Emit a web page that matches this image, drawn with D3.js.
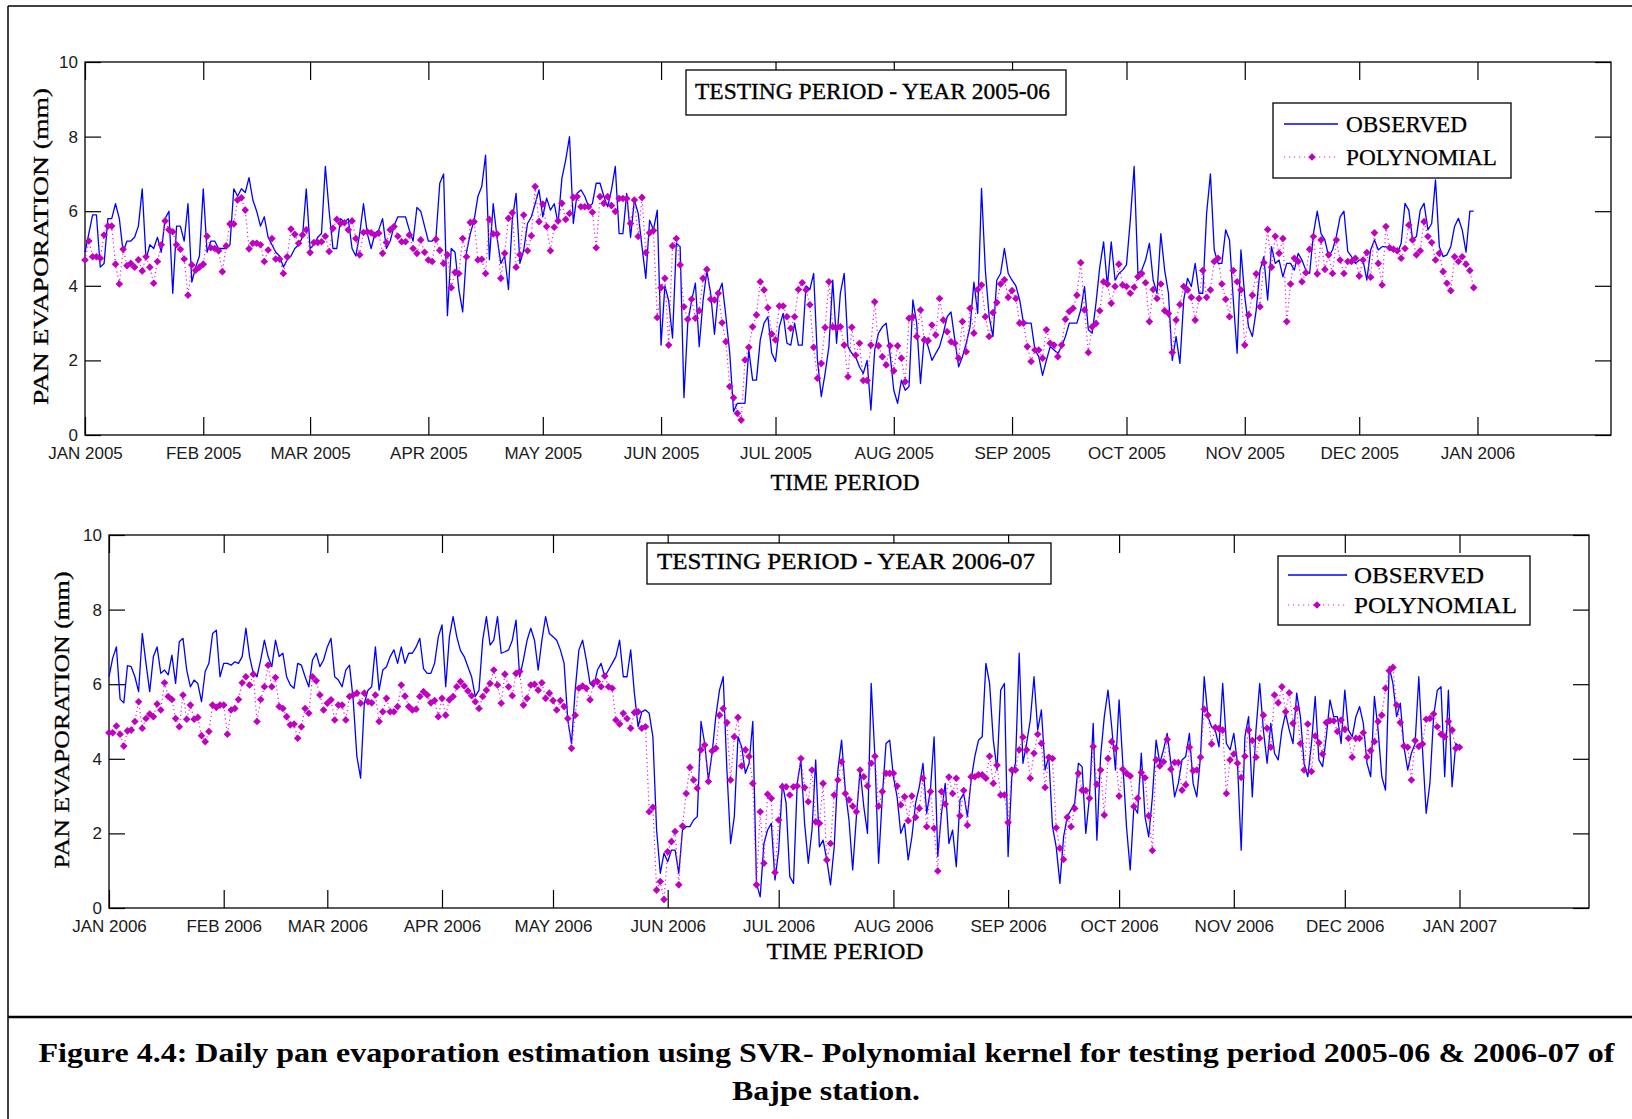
<!DOCTYPE html>
<html>
<head>
<meta charset="utf-8">
<script src="https://cdn.jsdelivr.net/npm/d3@7"></script>
<style>
  html, body { margin: 0; padding: 0; background: #fff; }
  svg { display: block; }
</style>
</head>
<body>
<svg id="fig" width="1632" height="1119"></svg>
<script>
// Daily pan evaporation (mm), testing year 2005-06, starting 1 Jan 2005
const obs2005 = [
4.9,5.4,5.9,5.9,4.5,4.6,5.8,5.8,6.2,5.8,
4.9,5.2,5.2,5.3,5.6,6.6,4.7,5.1,5.0,5.3,
4.9,5.8,6.0,3.8,5.6,5.6,5.2,6.2,4.1,4.5,
4.8,6.6,4.9,5.2,5.2,5.0,5.0,5.0,5.1,6.6,
6.4,6.6,6.5,6.9,6.3,6.0,5.6,5.85,5.3,5.1,
4.9,4.8,4.5,4.7,4.8,5.0,5.1,5.3,6.6,5.0,
5.1,5.3,5.4,7.2,6.0,5.0,5.0,5.8,5.7,5.8,
5.0,4.8,5.4,6.2,5.4,5.0,5.4,5.5,5.8,5.0,
5.2,5.6,5.85,5.85,5.85,5.5,5.2,6.1,6.0,5.6,
5.2,5.2,5.3,6.75,7.0,3.2,5.0,4.9,3.9,3.3,
4.9,5.4,5.76,6.4,6.66,7.5,4.7,6.2,5.3,4.6,
4.8,3.9,5.76,6.48,4.6,4.96,5.67,5.85,6.2,6.57,
5.85,6.35,6.03,6.2,5.67,6.88,7.37,8.0,5.67,6.48,
6.57,6.4,6.12,6.2,6.75,6.75,6.4,6.12,6.57,7.2,
5.4,5.4,6.48,5.3,6.3,5.94,5.05,4.2,5.76,5.5,
6.03,2.41,4.0,3.6,2.6,5.14,5.05,1.0,3.0,3.6,
4.07,2.37,3.6,4.4,3.8,2.7,3.8,4.07,3.17,2.2,
0.63,0.85,0.85,0.85,2.28,1.47,1.47,2.55,3.0,3.17,
2.2,1.97,2.9,3.26,2.46,2.41,3.0,2.41,2.41,4.0,
3.9,4.33,2.0,1.03,1.65,2.37,4.15,2.46,3.8,4.33,
2.37,2.19,2.1,1.83,1.65,2.0,0.67,2.28,2.73,2.9,
3.0,2.19,1.2,0.85,1.47,1.2,1.3,3.62,3.0,1.38,
2.64,2.37,2.0,2.19,2.37,2.73,3.17,3.3,2.55,1.83,
2.1,2.46,2.9,4.1,3.26,6.61,4.42,3.17,2.64,4.15,
4.33,5.0,4.33,4.15,4.0,3.62,3.0,3.0,3.0,2.28,
2.1,1.6,2.0,2.37,2.28,2.19,2.37,2.64,3.0,3.0,
3.0,3.35,3.98,2.82,2.73,3.53,4.51,5.18,3.98,5.18,
4.15,4.33,4.42,4.56,5.76,7.2,4.33,4.42,4.69,5.14,
4.15,3.8,5.4,4.42,3.8,2.0,2.64,1.92,3.62,4.2,
3.98,4.6,3.8,3.8,5.94,7.0,4.96,4.6,4.6,5.5,
5.23,3.62,2.19,4.96,3.71,2.9,2.64,3.35,4.42,4.78,
3.62,5.05,4.6,4.69,4.24,4.6,4.6,4.42,4.87,4.69,
4.42,4.33,5.4,6.0,5.4,5.23,4.78,4.96,5.32,5.85,
6.0,4.92,4.78,4.6,4.69,4.69,4.15,4.96,5.23,4.96,
5.05,5.05,4.96,4.96,4.87,5.14,6.21,6.03,5.23,5.32,
6.03,6.21,5.5,5.67,6.84,5.05,4.78,4.83,5.05,5.59,
5.81,5.5,4.9,6.0,6.0
];

const poly2005 = [
4.69,5.2,4.78,4.78,4.74,5.36,5.6,5.6,4.58,4.05,
4.98,4.54,4.6,4.5,4.7,4.4,4.78,4.5,4.07,4.65,
5.1,5.74,5.5,5.45,5.1,4.98,4.72,3.75,4.56,4.42,
4.5,4.58,5.33,5.02,5.0,4.94,4.38,5.07,5.66,5.66,
6.3,6.36,6.03,4.99,5.14,5.14,5.1,4.65,4.96,5.27,
4.72,4.72,4.33,4.78,5.52,5.38,5.14,5.36,5.5,4.89,
5.16,5.16,5.18,5.33,4.92,5.54,5.78,5.67,5.69,5.5,
5.74,5.27,4.83,5.43,5.45,5.42,5.36,5.41,4.87,5.16,
5.5,5.59,5.33,5.18,5.18,5.36,5.0,4.87,5.23,4.9,
4.69,4.65,5.25,4.95,4.6,4.83,3.95,4.36,4.33,5.27,
4.78,5.7,5.72,4.69,4.71,4.33,5.78,5.39,5.39,4.2,
4.87,5.81,5.96,4.5,4.83,5.9,4.94,5.34,6.66,5.72,
6.19,5.59,4.94,5.57,5.74,6.21,5.78,5.94,6.37,6.39,
6.12,6.12,6.12,5.97,5.02,6.39,6.21,6.39,6.15,5.99,
6.34,6.34,6.34,5.67,6.3,5.32,6.37,4.89,5.42,5.48,
3.15,3.95,4.2,2.41,5.07,5.27,4.56,3.44,3.1,3.64,
3.13,3.33,4.2,4.44,3.64,3.62,3.8,3.01,2.5,1.3,
1.0,0.58,0.4,2.01,2.35,2.9,3.22,4.11,3.89,3.41,
2.71,2.55,3.46,3.46,3.17,2.86,3.17,3.9,4.08,3.89,
3.49,2.35,1.52,1.92,2.88,4.11,2.9,2.86,2.9,2.41,
1.56,2.89,2.14,2.46,1.46,1.46,2.41,3.57,2.39,2.1,
1.88,2.39,1.72,2.39,2.06,1.43,3.13,3.17,2.64,3.35,
2.55,2.53,2.95,2.68,3.66,3.08,2.77,2.5,2.46,2.06,
3.04,2.23,3.4,2.73,3.9,4.02,3.17,2.64,3.28,3.55,
4.05,4.16,3.69,3.87,3.66,3.0,3.0,2.37,1.97,2.28,
2.28,2.06,2.82,2.46,2.41,2.1,2.41,3.1,3.31,3.4,
3.75,4.62,3.35,2.21,2.9,2.99,3.33,4.11,4.05,3.53,
3.98,4.58,4.02,3.98,3.8,3.96,4.24,4.33,4.08,3.04,
3.9,3.66,4.05,3.33,3.26,2.21,3.08,3.5,3.98,3.89,
3.69,3.08,3.66,4.41,3.69,3.89,4.65,4.74,4.05,3.64,
3.17,4.41,4.11,3.89,2.41,3.22,3.75,4.32,3.44,4.62,
5.51,4.5,5.33,4.87,5.27,3.04,4.05,4.74,4.65,4.11,
4.35,4.98,5.32,4.32,5.23,4.44,4.83,4.33,5.23,4.69,
4.33,4.65,4.65,4.74,4.26,4.69,4.89,4.23,5.42,4.6,
4.02,5.59,5.02,4.98,4.94,4.74,5.0,5.63,5.23,4.83,
4.94,5.72,5.32,5.16,4.69,4.87,4.38,4.07,3.87,4.78,
4.65,4.78,4.58,4.41,3.95
];

// Daily pan evaporation (mm), testing year 2006-07, starting 1 Jan 2006
const obs2006 = [
6.2,6.7,7.0,5.6,5.5,6.5,6.47,6.2,5.8,7.36,
6.56,5.8,6.74,7.0,6.29,6.38,6.25,6.78,6.02,7.14,
7.23,6.38,5.93,6.11,6.02,5.53,6.34,6.56,7.36,7.45,
6.2,6.56,6.56,6.51,6.6,6.56,6.74,7.5,6.74,6.29,
6.2,6.65,7.18,6.74,6.47,7.18,6.74,6.83,6.2,5.98,
5.89,6.56,6.51,6.2,5.93,6.65,6.83,6.47,6.65,7.0,
7.23,6.2,6.11,5.93,6.38,6.51,5.58,4.06,3.48,5.49,
5.84,5.93,7.0,5.84,6.38,6.47,6.74,6.92,6.56,7.0,
6.56,6.83,6.83,7.0,7.23,6.42,6.29,6.29,6.56,7.27,
7.59,5.93,7.27,7.81,7.27,6.9,6.74,6.47,6.2,5.67,
5.84,7.18,7.81,7.05,7.18,7.81,6.83,6.87,6.92,7.18,
7.72,6.2,6.65,7.18,7.5,7.18,6.38,7.18,7.81,7.36,
7.27,7.18,6.92,6.56,5.04,4.41,5.84,6.92,7.18,6.65,
6.02,5.93,6.38,6.56,6.2,6.38,6.56,6.74,7.18,6.2,
6.2,6.92,5.76,4.86,5.26,5.31,5.22,4.59,2.09,0.93,
1.47,1.24,1.55,1.55,0.93,2.09,2.18,2.18,2.36,2.45,
5.0,4.41,3.43,4.15,5.13,5.84,6.2,3.7,1.73,2.45,
4.59,4.32,3.61,3.88,5.0,0.66,0.3,1.73,2.09,2.27,
0.75,1.55,3.34,2.81,0.84,0.66,3.34,3.97,2.27,1.2,
2.09,3.97,1.64,1.82,1.29,0.62,1.64,3.7,4.5,3.16,
2.36,1.02,2.45,3.7,2.72,2.0,6.02,4.06,1.2,2.98,
4.41,4.5,3.52,2.98,2.0,2.27,1.29,1.91,2.81,3.25,
3.88,2.54,3.16,4.59,1.38,2.54,3.34,1.73,2.09,1.11,
2.9,3.07,2.45,3.43,4.06,4.5,4.59,6.56,6.02,4.5,
3.7,5.84,6.02,1.38,3.52,3.88,6.83,3.88,4.41,5.04,
6.2,4.77,5.31,3.7,4.06,2.18,1.64,0.66,1.91,2.45,
2.63,2.81,3.88,3.79,2.0,2.98,4.95,1.82,4.06,5.13,
5.84,4.86,3.7,5.58,3.88,2.18,1.02,2.72,2.54,4.15,
2.45,1.91,2.98,4.5,3.88,4.24,4.68,3.88,2.98,3.34,
3.97,4.06,4.68,3.34,2.98,4.06,6.2,5.13,4.86,4.77,
4.32,6.02,4.41,4.24,4.68,3.88,1.55,4.59,5.13,2.98,
4.77,6.02,4.77,3.88,4.95,4.15,3.97,4.77,5.22,4.77,
4.41,5.76,5.13,3.88,3.52,4.41,5.67,3.97,3.79,4.59,
5.58,5.13,5.13,4.41,5.84,4.77,4.59,5.13,5.4,4.95,
3.88,3.52,5.67,4.77,3.52,3.16,6.47,6.02,5.13,5.49,
4.32,3.7,4.15,4.41,6.2,4.24,2.54,3.34,5.13,5.84,
5.93,3.52,5.84,3.25,4.41,4.32
];

const poly2006 = [
4.7,4.7,4.88,4.66,4.34,4.75,4.77,5.0,5.53,4.82,
5.08,5.2,5.13,5.47,5.31,6.04,5.67,5.59,5.08,4.86,
5.71,5.06,5.44,5.06,5.11,4.62,4.46,4.73,5.44,5.38,
5.44,5.44,4.66,5.31,5.35,5.59,6.04,6.2,5.98,6.27,
5.0,5.59,5.93,6.51,5.93,6.18,5.4,5.35,5.13,4.91,
4.93,4.55,4.86,5.35,5.22,6.2,6.09,5.71,5.31,5.49,
5.58,5.04,5.44,5.44,5.04,5.67,5.71,5.76,5.49,5.76,
5.53,5.5,5.71,5.0,5.26,5.62,5.26,5.26,5.4,5.98,
5.68,5.4,5.31,5.33,5.67,5.8,5.71,5.5,5.56,5.13,
5.62,5.17,5.58,5.67,5.93,6.07,5.95,5.82,5.69,5.53,
5.35,5.67,5.84,6.02,6.38,5.98,5.49,6.27,5.93,5.69,
6.29,6.34,5.44,5.62,5.98,6.0,5.84,6.04,5.62,5.76,
5.56,5.31,5.56,5.4,5.08,4.28,5.17,5.89,5.95,5.89,
5.58,6.04,6.07,5.93,6.22,5.93,5.89,5.04,4.93,5.22,
5.08,4.82,5.24,5.26,4.82,4.86,2.58,2.7,0.48,0.71,
0.23,1.51,1.78,2.05,0.62,2.2,3.07,3.77,3.43,3.21,
4.24,4.37,3.39,4.21,4.28,5.17,5.35,4.97,3.43,4.59,
5.11,3.81,4.24,4.06,3.34,0.62,2.58,1.2,3.05,2.94,
0.95,2.36,3.25,3.25,3.03,3.25,3.27,4.01,3.23,2.85,
3.7,2.31,2.27,3.34,1.29,1.73,3.03,3.43,3.92,3.07,
2.9,2.73,2.58,3.7,3.52,3.27,3.88,4.07,2.73,3.12,
3.61,3.61,3.61,3.27,2.76,2.98,2.34,3.0,2.43,2.67,
3.48,2.18,3.12,2.14,0.99,3.12,2.79,3.51,3.07,3.48,
2.47,3.15,2.22,3.52,3.52,3.57,3.57,3.48,4.07,3.34,
3.83,3.03,3.03,2.29,3.7,3.7,4.24,4.58,4.24,3.48,
4.15,4.66,4.41,3.23,4.04,4.01,2.15,1.6,1.3,2.43,
2.18,2.67,3.61,3.16,3.15,2.94,4.33,3.32,3.7,2.49,
4.01,4.46,4.28,3.0,3.72,3.61,3.54,2.72,2.94,3.63,
3.49,2.47,1.54,3.97,3.81,3.92,4.52,3.72,3.9,3.9,
3.16,3.3,4.31,3.68,3.7,4.04,5.33,5.17,4.4,4.84,
4.81,4.77,3.07,3.97,4.13,3.88,3.5,4.07,4.77,4.49,
4.04,4.55,5.17,4.82,4.31,5.71,5.5,5.93,5.26,5.77,
4.95,5.35,4.41,3.7,4.93,3.66,4.61,4.43,4.13,4.97,
5.02,5.02,4.73,5.04,4.79,4.55,4.04,4.55,4.55,4.7,
4.05,4.22,4.46,5.0,5.17,5.89,6.36,6.45,5.44,4.97,
4.34,4.31,3.43,4.49,4.33,4.4,5.06,5.08,5.2,4.86,
4.66,4.59,5.0,4.77,4.28,4.31
];

const yTicks = [0, 2, 4, 6, 8, 10];
const months2005 = ["JAN 2005","FEB 2005","MAR 2005","APR 2005","MAY 2005","JUN 2005","JUL 2005",
                    "AUG 2005","SEP 2005","OCT 2005","NOV 2005","DEC 2005","JAN 2006"];
const months2006 = ["JAN 2006","FEB 2006","MAR 2006","APR 2006","MAY 2006","JUN 2006","JUL 2006",
                    "AUG 2006","SEP 2006","OCT 2006","NOV 2006","DEC 2006","JAN 2007"];
const seriesNames = ["OBSERVED", "POLYNOMIAL"];
const panelTitles = ["TESTING PERIOD - YEAR 2005-06", "TESTING PERIOD - YEAR 2006-07"];
const xTitle = "TIME PERIOD";
const yTitle = "PAN EVAPORATION (mm)";
const captionLines = [
  "Figure 4.4: Daily pan evaporation estimation using SVR- Polynomial kernel for testing period 2005-06 & 2006-07 of",
  "Bajpe station."
];

// ---------- layout ----------
const W = 1632, H = 1119;
const SERIF = "'Liberation Serif','Times New Roman',Times,serif";
const SANS = "'Liberation Sans',Arial,Helvetica,sans-serif";
const BLUE = "#0000ff", MAG = "#c000c0", MAG_DOT = "#e020e0";

const panels = [
  {
    year: 2005, obs: obs2005, poly: poly2005, months: months2005, title: panelTitles[0],
    plot: { l: 85, r: 1611, t: 62, b: 435 },
    tbox: { x: 686, y: 70, w: 380, h: 45, tx: 695, tl: 355, base: 99 },
    leg: { x: 1273, y: 103, w: 238, h: 75, l0: 1284, l1: 1338, mx: 1312, y1: 124, y2: 157,
           tx: 1346, tl1: 121, tl2: 151, fs: 23 },
    xl: { cx: 845, base: 490, len: 149 },
    yl: { x: 48, cy: 246.5, len: 317 }
  },
  {
    year: 2006, obs: obs2006, poly: poly2006, months: months2006, title: panelTitles[1],
    plot: { l: 109, r: 1589, t: 535, b: 908 },
    tbox: { x: 647, y: 543, w: 404, h: 41, tx: 657, tl: 378, base: 569 },
    leg: { x: 1278, y: 556, w: 252, h: 69, l0: 1288, l1: 1347, mx: 1317, y1: 575, y2: 605,
           tx: 1354, tl1: 130, tl2: 163, fs: 24 },
    xl: { cx: 845, base: 959, len: 157 },
    yl: { x: 69, cy: 720, len: 297 }
  }
];

const svg = d3.select("#fig");
svg.append("rect").attr("width", W).attr("height", H).attr("fill", "#fff");

const diamond = r => `M0,${-r}L${r},0L0,${r}L${-r},0Z`;

function styleAxis(sel, withText) {
  sel.select(".domain").remove();
  sel.selectAll(".tick line").attr("stroke", "#000").attr("stroke-width", 1.2);
  if (withText) {
    sel.selectAll(".tick text")
      .attr("fill", "#1a1a1a")
      .style("font-family", SANS)
      .style("font-size", "17px");
  } else {
    sel.selectAll(".tick text").remove();
  }
}

function drawPanel(p) {
  const P = p.plot;
  const start = new Date(Date.UTC(p.year, 0, 1));
  const dates = p.obs.map((_, i) => new Date(Date.UTC(p.year, 0, 1 + i)));
  const x = d3.scaleUtc().domain([start, d3.utcDay.offset(start, 400)]).range([P.l, P.r]);
  const y = d3.scaleLinear().domain([0, 10]).range([P.b, P.t]);
  const monthTicks = d3.utcMonth.range(start, d3.utcMonth.offset(start, 13));

  const g = svg.append("g");

  // axes (ticks point inward, mirrored on all four sides)
  g.append("g").attr("transform", `translate(0,${P.b})`)
    .call(d3.axisBottom(x).tickValues(monthTicks).tickFormat((d, i) => p.months[i])
      .tickSize(-18).tickSizeOuter(0).tickPadding(12))
    .call(s => styleAxis(s, true));
  g.append("g").attr("transform", `translate(0,${P.t})`)
    .call(d3.axisTop(x).tickValues(monthTicks).tickSize(-18).tickSizeOuter(0))
    .call(s => styleAxis(s, false));
  g.append("g").attr("transform", `translate(${P.l},0)`)
    .call(d3.axisLeft(y).tickValues(yTicks).tickSize(-16).tickSizeOuter(0).tickPadding(7))
    .call(s => styleAxis(s, true));
  g.append("g").attr("transform", `translate(${P.r},0)`)
    .call(d3.axisRight(y).tickValues(yTicks).tickSize(-16).tickSizeOuter(0))
    .call(s => styleAxis(s, false));

  g.append("rect")
    .attr("x", P.l).attr("y", P.t).attr("width", P.r - P.l).attr("height", P.b - P.t)
    .attr("fill", "none").attr("stroke", "#000").attr("stroke-width", 1.3);

  // observed series
  const line = d3.line().x((d, i) => x(dates[i])).y(d => y(d));
  g.append("path").datum(p.obs)
    .attr("d", line).attr("fill", "none")
    .attr("stroke", BLUE).attr("stroke-width", 1.3).attr("stroke-linejoin", "round");

  // polynomial-kernel estimate: dotted line with diamond markers
  g.append("path").datum(p.poly)
    .attr("d", line).attr("fill", "none")
    .attr("stroke", MAG_DOT).attr("stroke-width", 1.2).attr("stroke-dasharray", "1.2,3");
  g.append("g").selectAll("path").data(p.poly).join("path")
    .attr("transform", (d, i) => `translate(${x(dates[i])},${y(d)})`)
    .attr("d", diamond(3.8)).attr("fill", MAG);

  // panel title box
  const T = p.tbox;
  g.append("rect").attr("x", T.x).attr("y", T.y).attr("width", T.w).attr("height", T.h)
    .attr("fill", "#fff").attr("stroke", "#000").attr("stroke-width", 1.3);
  g.append("text").attr("x", T.tx).attr("y", T.base)
    .attr("textLength", T.tl).attr("lengthAdjust", "spacingAndGlyphs")
    .style("font-family", SERIF).style("font-size", "23px").attr("fill", "#000")
    .attr("stroke", "#000").attr("stroke-width", 0.35)
    .text(p.title);

  // legend
  const L = p.leg;
  g.append("rect").attr("x", L.x).attr("y", L.y).attr("width", L.w).attr("height", L.h)
    .attr("fill", "#fff").attr("stroke", "#000").attr("stroke-width", 1.3);
  g.append("line").attr("x1", L.l0).attr("x2", L.l1).attr("y1", L.y1).attr("y2", L.y1)
    .attr("stroke", BLUE).attr("stroke-width", 1.3);
  g.append("line").attr("x1", L.l0).attr("x2", L.l1).attr("y1", L.y2).attr("y2", L.y2)
    .attr("stroke", MAG_DOT).attr("stroke-width", 1.2).attr("stroke-dasharray", "1.2,3.8");
  g.append("path").attr("transform", `translate(${L.mx},${L.y2})`)
    .attr("d", diamond(3.8)).attr("fill", MAG);
  [[seriesNames[0], L.y1, L.tl1], [seriesNames[1], L.y2, L.tl2]].forEach(([t, yy, tl]) => {
    g.append("text").attr("x", L.tx).attr("y", yy + L.fs * 0.34)
      .attr("textLength", tl).attr("lengthAdjust", "spacingAndGlyphs")
      .style("font-family", SERIF).style("font-size", L.fs + "px").attr("fill", "#000")
      .attr("stroke", "#000").attr("stroke-width", 0.25)
      .text(t);
  });

  // axis titles
  g.append("text").attr("x", p.xl.cx).attr("y", p.xl.base).attr("text-anchor", "middle")
    .attr("textLength", p.xl.len).attr("lengthAdjust", "spacingAndGlyphs")
    .style("font-family", SERIF).style("font-size", "24px").attr("fill", "#000")
    .attr("stroke", "#000").attr("stroke-width", 0.3)
    .text(xTitle);
  g.append("text")
    .attr("transform", `translate(${p.yl.x},${p.yl.cy}) rotate(-90)`)
    .attr("text-anchor", "middle")
    .attr("textLength", p.yl.len).attr("lengthAdjust", "spacingAndGlyphs")
    .style("font-family", SERIF).style("font-size", "20px").attr("fill", "#000")
    .attr("stroke", "#000").attr("stroke-width", 0.3)
    .text(yTitle);
}

panels.forEach(drawPanel);

// figure frame and caption
svg.append("line").attr("x1", 8).attr("x2", 8).attr("y1", 6).attr("y2", H)
  .attr("stroke", "#000").attr("stroke-width", 1.5);
svg.append("line").attr("x1", 8).attr("x2", W).attr("y1", 6).attr("y2", 6)
  .attr("stroke", "#000").attr("stroke-width", 1.5);
svg.append("line").attr("x1", 8).attr("x2", W).attr("y1", 1017).attr("y2", 1017)
  .attr("stroke", "#000").attr("stroke-width", 2.5);

svg.append("text").attr("x", 38.5).attr("y", 1062)
  .attr("textLength", 1576).attr("lengthAdjust", "spacingAndGlyphs")
  .style("font-family", SERIF).style("font-weight", "bold").style("font-size", "28px")
  .attr("fill", "#000").text(captionLines[0]);
svg.append("text").attr("x", 826).attr("y", 1100).attr("text-anchor", "middle")
  .attr("textLength", 188).attr("lengthAdjust", "spacingAndGlyphs")
  .style("font-family", SERIF).style("font-weight", "bold").style("font-size", "28px")
  .attr("fill", "#000").text(captionLines[1]);
</script>
</body>
</html>
